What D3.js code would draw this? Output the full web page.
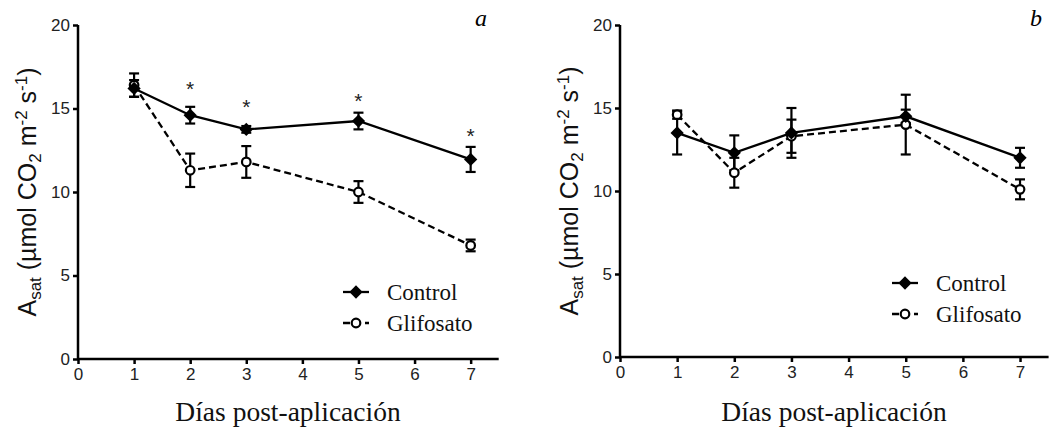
<!DOCTYPE html>
<html>
<head>
<meta charset="utf-8">
<script src="https://cdn.jsdelivr.net/npm/d3@7"></script>
<style>
  body { margin: 0; background: #fff; }
  svg { display: block; }
  .tick text { font-family: "Liberation Sans", Arial, sans-serif; font-size: 17px; fill: #222; }
</style>
</head>
<body>
<svg id="chart" width="1055" height="432"></svg>
<script>
// data
const days = [1, 2, 3, 5, 7];
const xTicks = [0, 1, 2, 3, 4, 5, 6, 7];
const yTicks = [0, 5, 10, 15, 20];

// panel a
const controlA = [16.2, 14.6, 13.75, 14.25, 11.95];
const controlAErr = [0.5, 0.5, 0.2, 0.5, 0.75];
const glifA = [16.4, 11.3, 11.8, 10.0, 6.8];
const glifAErr = [0.7, 1.0, 0.95, 0.65, 0.35];
const starDaysA = [2, 3, 5, 7];
const starValsA = [16.4, 15.3, 15.7, 13.6];

// panel b
const controlB = [13.5, 12.3, 13.5, 14.5, 12.0];
const controlBErr = [1.3, 1.05, 1.5, 0.4, 0.6];
const glifB = [14.6, 11.1, 13.3, 14.0, 10.1];
const glifBErr = [0.25, 0.9, 1.0, 1.8, 0.6];

const svg = d3.select("#chart");

const panels = [
  { x0: 78, x1: 498.7, y0: 359, y1: 25, control: controlA, cErr: controlAErr, glif: glifA, gErr: glifAErr,
    letter: "a", letterX: 481, titleX: 36, xTitleX: 288, legX: 343, legY: 292, stars: true },
  { x0: 620, x1: 1048.6, y0: 357, y1: 25, control: controlB, cErr: controlBErr, glif: glifB, gErr: glifBErr,
    letter: "b", letterX: 1036, titleX: 578, xTitleX: 834, legX: 892, legY: 283, stars: false }
];

const diamond = d3.symbol(d3.symbolSquare, 88);
const serif = "'Liberation Serif', 'Times New Roman', serif";
const sans = "'Liberation Sans', Arial, sans-serif";

panels.forEach(p => {
  const x = d3.scaleLinear().domain([0, 7.5]).range([p.x0, p.x1]);
  const y = d3.scaleLinear().domain([0, 20]).range([p.y0, p.y1]);
  const g = svg.append("g");

  // axes
  const yAxis = g.append("g")
    .attr("transform", `translate(${p.x0},0)`)
    .call(d3.axisLeft(y).tickValues(yTicks).tickSize(5).tickPadding(3));
  const xAxis = g.append("g")
    .attr("transform", `translate(0,${p.y0})`)
    .call(d3.axisBottom(x).tickValues(xTicks).tickSize(5).tickPadding(4));
  [yAxis, xAxis].forEach(a => {
    a.select(".domain").attr("stroke", "#000").attr("stroke-width", 2.5);
    a.selectAll(".tick line").attr("stroke", "#000").attr("stroke-width", 2.5);
  });
  yAxis.select(".domain").attr("d", `M0,${p.y0}V${p.y1}`);
  xAxis.select(".domain").attr("d", `M${p.x0},0H${p.x1}`);

  const ctrl = days.map((d, i) => ({ d, v: p.control[i], e: p.cErr[i] }));
  const gli = days.map((d, i) => ({ d, v: p.glif[i], e: p.gErr[i] }));

  const line = d3.line().x(d => x(d.d)).y(d => y(d.v));

  g.append("path").datum(gli).attr("d", line)
    .attr("fill", "none").attr("stroke", "#000").attr("stroke-width", 2.3)
    .attr("stroke-dasharray", "7,4");
  g.append("path").datum(ctrl).attr("d", line)
    .attr("fill", "none").attr("stroke", "#000").attr("stroke-width", 2.3);

  // error bars
  [gli, ctrl].forEach(series => {
    const eb = g.append("g").selectAll("g").data(series).enter().append("g")
      .attr("stroke", "#000").attr("stroke-width", 2.2);
    eb.append("line")
      .attr("x1", d => x(d.d)).attr("x2", d => x(d.d))
      .attr("y1", d => y(d.v + d.e)).attr("y2", d => y(d.v - d.e));
    eb.append("line")
      .attr("x1", d => x(d.d) - 5).attr("x2", d => x(d.d) + 5)
      .attr("y1", d => y(d.v + d.e)).attr("y2", d => y(d.v + d.e));
    eb.append("line")
      .attr("x1", d => x(d.d) - 5).attr("x2", d => x(d.d) + 5)
      .attr("y1", d => y(d.v - d.e)).attr("y2", d => y(d.v - d.e));
  });

  // markers
  g.append("g").selectAll("circle").data(gli).enter().append("circle")
    .attr("cx", d => x(d.d)).attr("cy", d => y(d.v)).attr("r", 4.3)
    .attr("fill", "#fff").attr("stroke", "#000").attr("stroke-width", 2.2);
  g.append("g").selectAll("path").data(ctrl).enter().append("path")
    .attr("d", diamond)
    .attr("transform", d => `translate(${x(d.d)},${y(d.v)}) rotate(45)`)
    .attr("fill", "#000");

  // significance stars
  if (p.stars) {
    g.append("g").selectAll("text").data(starDaysA).enter().append("text")
      .attr("x", d => x(d))
      .attr("y", (d, i) => y(starValsA[i]) + 11)
      .attr("text-anchor", "middle")
      .attr("font-family", sans).attr("font-size", 21).attr("fill", "#222")
      .text("*");
  }

  // panel letter
  g.append("text").attr("x", p.letterX).attr("y", 26)
    .attr("text-anchor", "middle")
    .attr("font-family", serif).attr("font-style", "italic").attr("font-size", 24)
    .text(p.letter);

  // y title
  const yt = g.append("text")
    .attr("transform", `translate(${p.titleX},${(p.y0 + p.y1) / 2 + 0}) rotate(-90)`)
    .attr("text-anchor", "middle")
    .attr("font-family", sans).attr("font-size", 25).attr("fill", "#111");
  yt.append("tspan").text("A");
  yt.append("tspan").attr("font-size", 17).attr("dy", 5).text("sat");
  yt.append("tspan").attr("dy", -5).text(" (µmol CO");
  yt.append("tspan").attr("font-size", 17).attr("dy", 5).text("2");
  yt.append("tspan").attr("dy", -5).text(" m");
  yt.append("tspan").attr("font-size", 17).attr("dy", -9).text("-2");
  yt.append("tspan").attr("dy", 9).text(" s");
  yt.append("tspan").attr("font-size", 17).attr("dy", -9).text("-1");
  yt.append("tspan").attr("dy", 9).text(")");

  // x title
  g.append("text").attr("x", p.xTitleX).attr("y", 421)
    .attr("text-anchor", "middle")
    .attr("font-family", serif).attr("font-size", 27.5).attr("fill", "#111")
    .text("Días post-aplicación");

  // legend
  const leg = g.append("g");
  leg.append("line").attr("x1", p.legX).attr("x2", p.legX + 26)
    .attr("y1", p.legY).attr("y2", p.legY)
    .attr("stroke", "#000").attr("stroke-width", 2.3);
  leg.append("path").attr("d", diamond)
    .attr("transform", `translate(${p.legX + 13},${p.legY}) rotate(45)`);
  leg.append("line").attr("x1", p.legX).attr("x2", p.legX + 26)
    .attr("y1", p.legY + 31).attr("y2", p.legY + 31)
    .attr("stroke", "#000").attr("stroke-width", 2.3).attr("stroke-dasharray", "7,4");
  leg.append("circle").attr("cx", p.legX + 13).attr("cy", p.legY + 31).attr("r", 4.3)
    .attr("fill", "#fff").attr("stroke", "#000").attr("stroke-width", 2.2);
  leg.selectAll("text").data(["Control", "Glifosato"]).enter().append("text")
    .attr("x", p.legX + 44).attr("y", (d, i) => p.legY + 8 + i * 31)
    .attr("font-family", serif).attr("font-size", 23).attr("fill", "#111")
    .text(d => d);
});
</script>
</body>
</html>
